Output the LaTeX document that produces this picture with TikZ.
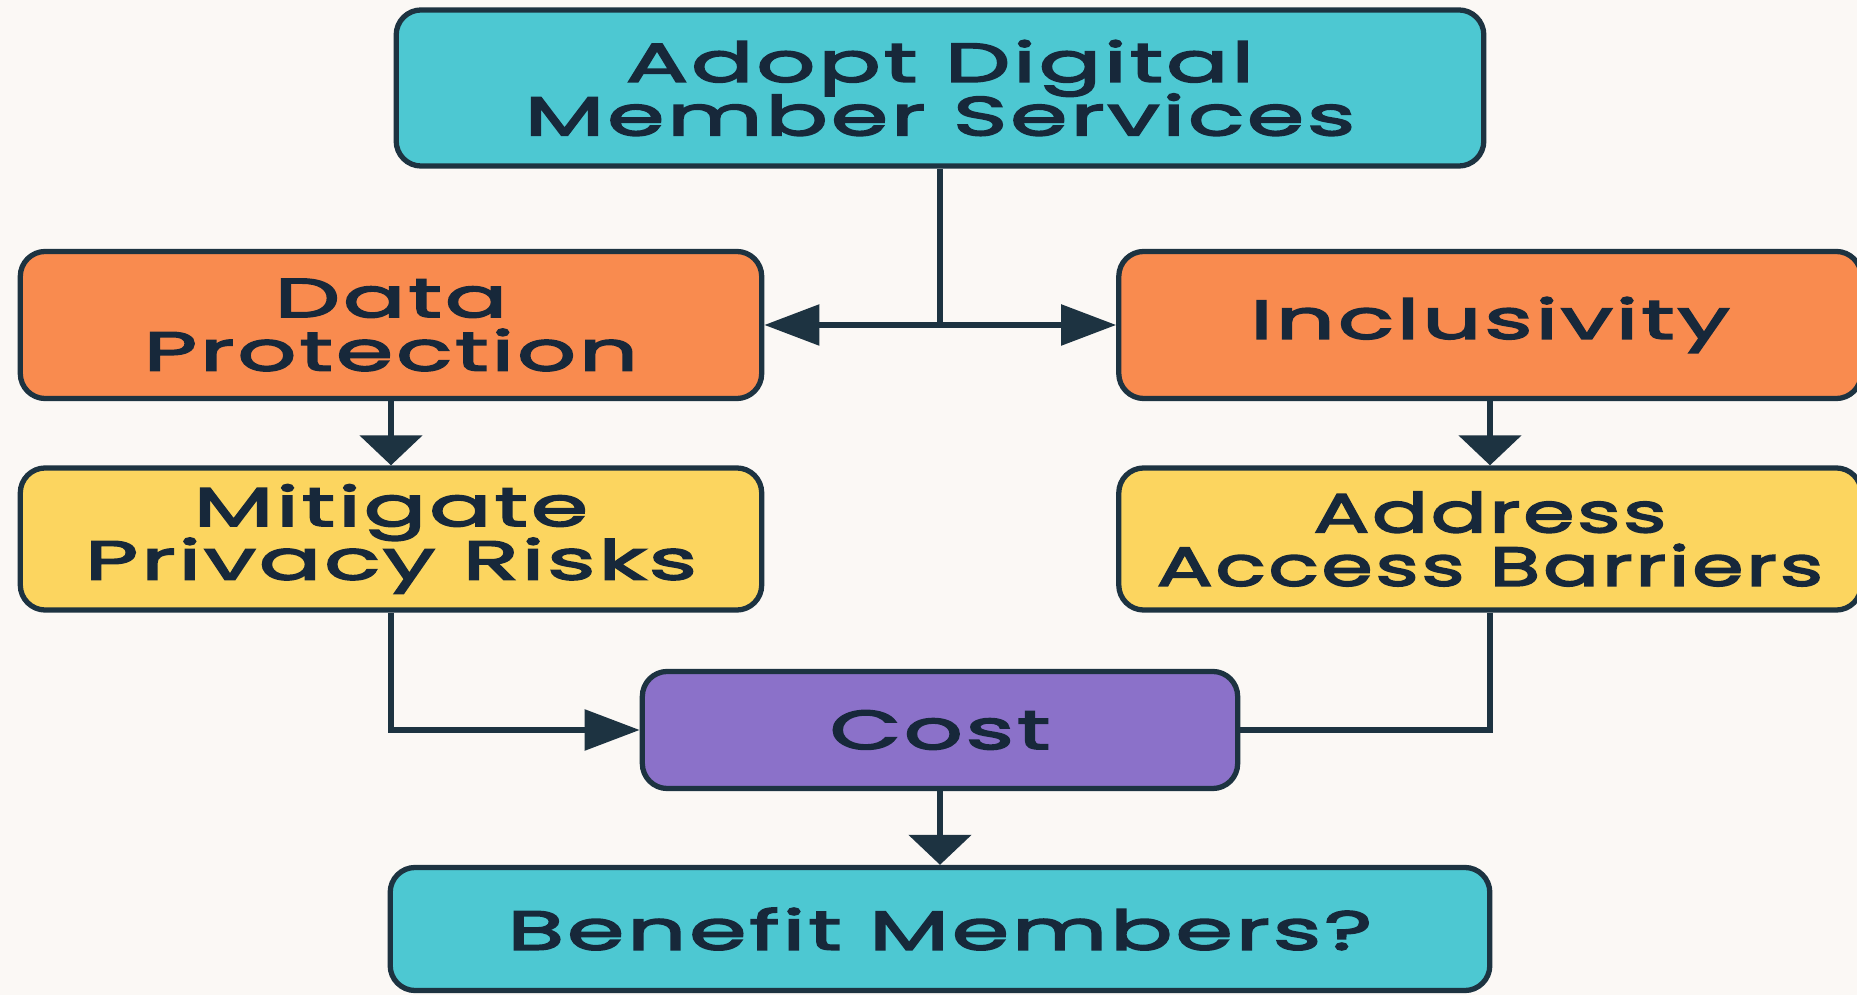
\documentclass[tikz,border=0pt]{standalone}
\usepackage{fontspec}
\setmainfont{Poppins}[FakeStretch=1.7,LetterSpace=5,FakeBold=3.4]
\newfontfamily\narrowfont{Poppins}[FakeStretch=1.52,LetterSpace=5,FakeBold=3.4]
\usepackage{xcolor}
\usetikzlibrary{arrows.meta}

\definecolor{bgpaper}{HTML}{FBF8F5}
\definecolor{tealbox}{HTML}{4DC8D2}
\definecolor{orangebox}{HTML}{F98B4F}
\definecolor{yellowbox}{HTML}{FCD55F}
\definecolor{purplebox}{HTML}{8B71C9}
\definecolor{linecol}{HTML}{1D3341}
\definecolor{textcol}{HTML}{17283A}

\newcommand{\boxfont}{\fontsize{15.5}{15.2}\selectfont\lineskiplimit=-20pt\relax}

\begin{document}
\begin{tikzpicture}[x=0.01cm,y=-0.01cm,
		box/.style={rectangle,rounded corners=0.25cm,draw=linecol,line width=1.5pt,
			align=center,text=textcol,inner sep=0pt,font=\boxfont},
		conn/.style={draw=linecol,line width=1.6pt},
		downarr/.style={conn,-{Triangle[length=0.30cm,width=0.62cm]}},
		sidearr/.style={conn,-{Triangle[length=0.55cm,width=0.40cm]}}]
		\fill[bgpaper] (0,0) rectangle (1857,995);
		\useasboundingbox (0,0) rectangle (1857,995);
		
		\node[box,fill=tealbox,minimum width=10.87cm,minimum height=1.56cm] (adopt) at (940,88) {Adopt Digital\\Member Services};
		
		\node[box,fill=orangebox,minimum width=7.41cm,minimum height=1.47cm] (dataprot) at (391,325) {Data\\Protection};
		\node[box,fill=orangebox,minimum width=7.42cm,minimum height=1.47cm] (inclus) at (1490,325) {Inclusivity};
		
		\node[box,fill=yellowbox,minimum width=7.41cm,minimum height=1.42cm] (mitigate) at (391,539) {Mitigate\\Privacy Risks};
		\node[box,fill=yellowbox,minimum width=7.42cm,minimum height=1.42cm,font=\boxfont\narrowfont] (address) at (1490,539) {Address\\Access Barriers};
		
		\node[box,fill=purplebox,minimum width=5.95cm,minimum height=1.17cm] (cost) at (940,730) {Cost};
		
		\node[box,fill=tealbox,minimum width=10.99cm,minimum height=1.23cm] (benefit) at (940,929) {Benefit Members?};
		
		% split below the first box
		\coordinate (split) at (adopt.south |- dataprot.east);
		\draw[conn] (adopt.south) -- (split);
		\draw[sidearr] (split) -- (dataprot.east);
		\draw[sidearr] (split) -- (inclus.west);
		
		\draw[downarr] (dataprot.south) -- (mitigate.north);
		\draw[downarr] (inclus.south) -- (address.north);
		
		\draw[sidearr] (mitigate.south) |- (cost.west);
		\draw[conn] (address.south) |- (cost.east);
		
		\draw[downarr] (cost.south) -- (benefit.north);
	\end{tikzpicture}
\end{document}
